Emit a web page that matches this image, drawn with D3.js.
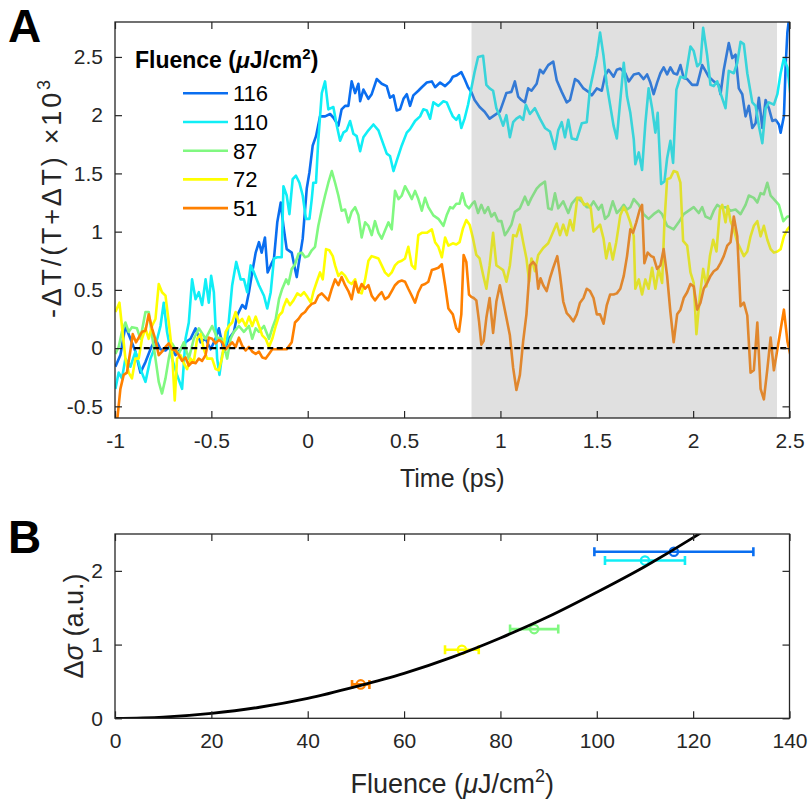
<!DOCTYPE html>
<html>
<head>
<meta charset="utf-8">
<script src="https://cdn.jsdelivr.net/npm/d3@7"></script>
<style>
  body { margin: 0; background: #fff; }
  svg { font-family: "Liberation Sans", Arial, Helvetica, sans-serif; }
</style>
</head>
<body>
<svg id="chart" width="809" height="802"></svg>
<script>
// Panel A: pump-probe traces, [time (ps), -dT/(T+dT) x10^3]
const trace116 = [[-0.998,-0.16],[-0.972,-0.06],[-0.946,0.19],[-0.920,0.08],[-0.894,-0.03],[-0.868,-0.21],[-0.842,-0.12],[-0.816,-0.01],[-0.790,0.08],[-0.764,-0.01],[-0.738,-0.02],[-0.712,0.02],[-0.686,-0.06],[-0.660,-0.01],[-0.634,0.05],[-0.608,0.08],[-0.582,0.17],[-0.556,0.05],[-0.530,0.08],[-0.504,-0.01],[-0.478,0.08],[-0.461,0.17],[-0.435,-0.03],[-0.409,0.08],[-0.383,0.14],[-0.366,0.28],[-0.340,0.37],[-0.322,0.34],[-0.305,0.48],[-0.288,0.65],[-0.270,0.82],[-0.253,0.91],[-0.239,0.82],[-0.222,0.95],[-0.208,0.65],[-0.192,0.71],[-0.175,0.77],[-0.158,1.08],[-0.140,1.25],[-0.126,1.05],[-0.109,0.85],[-0.083,0.82],[-0.066,0.68],[-0.057,0.61],[-0.048,0.71],[-0.026,0.94],[-0.005,1.37],[0.009,1.51],[0.026,1.74],[0.043,1.82],[0.064,1.99],[0.090,1.99],[0.116,2.01],[0.133,1.98],[0.159,1.91],[0.176,2.05],[0.194,2.08],[0.211,2.08],[0.228,2.29],[0.246,2.19],[0.263,2.27],[0.272,2.12],[0.289,2.22],[0.315,2.14],[0.332,2.18],[0.358,2.31],[0.384,2.27],[0.410,2.25],[0.427,2.15],[0.445,2.17],[0.462,2.04],[0.479,2.05],[0.497,2.14],[0.514,2.18],[0.531,2.08],[0.548,2.17],[0.574,2.21],[0.592,2.24],[0.618,2.28],[0.644,2.29],[0.661,2.24],[0.687,2.28],[0.713,2.25],[0.739,2.29],[0.753,2.33],[0.771,2.34],[0.797,2.37],[0.814,2.31],[0.832,2.24],[0.849,2.20],[0.866,2.13],[0.892,2.07],[0.918,2.03],[0.944,1.97],[0.970,2.00],[0.997,2.03],[1.014,2.11],[1.031,2.19],[1.057,2.20],[1.075,2.29],[1.092,2.16],[1.109,2.13],[1.127,2.11],[1.144,2.23],[1.161,2.21],[1.188,2.27],[1.205,2.39],[1.222,2.36],[1.248,2.43],[1.274,2.46],[1.292,2.30],[1.318,2.20],[1.344,2.11],[1.361,2.13],[1.387,2.31],[1.405,2.29],[1.431,2.23],[1.457,2.20],[1.474,2.17],[1.500,2.23],[1.526,2.21],[1.543,2.34],[1.561,2.39],[1.587,2.33],[1.604,2.39],[1.622,2.40],[1.648,2.36],[1.666,2.29],[1.692,2.35],[1.718,2.36],[1.743,2.31],[1.761,2.35],[1.778,2.28],[1.795,2.18],[1.813,2.28],[1.830,2.36],[1.847,2.41],[1.865,2.35],[1.882,2.41],[1.899,2.36],[1.917,2.35],[1.934,2.43],[1.951,2.32],[1.969,2.31],[1.995,2.26],[2.021,2.26],[2.047,2.43],[2.064,2.38],[2.081,2.33],[2.107,2.29],[2.133,2.26],[2.142,2.18],[2.159,2.39],[2.185,2.62],[2.203,2.49],[2.220,2.52],[2.237,2.23],[2.255,2.18],[2.272,1.99],[2.289,2.08],[2.307,1.89],[2.324,1.93],[2.341,2.15],[2.359,1.89],[2.376,2.13],[2.393,2.06],[2.411,1.95],[2.428,1.96],[2.445,1.92],[2.454,1.85],[2.471,1.99],[2.480,2.42],[2.489,2.71],[2.497,2.82]];

const trace110 = [[-0.998,-0.35],[-0.981,-0.21],[-0.964,-0.26],[-0.946,-0.09],[-0.920,-0.16],[-0.894,-0.03],[-0.868,-0.18],[-0.842,-0.29],[-0.816,-0.09],[-0.790,0.02],[-0.764,0.19],[-0.747,0.39],[-0.730,0.14],[-0.704,-0.09],[-0.678,-0.23],[-0.652,-0.35],[-0.634,0.08],[-0.617,0.22],[-0.600,0.59],[-0.582,0.42],[-0.565,0.48],[-0.548,0.37],[-0.530,0.59],[-0.513,0.39],[-0.501,0.62],[-0.487,0.48],[-0.470,-0.09],[-0.458,-0.23],[-0.444,-0.06],[-0.418,0.08],[-0.392,0.54],[-0.371,0.74],[-0.348,0.59],[-0.331,0.59],[-0.314,0.48],[-0.296,0.71],[-0.279,0.65],[-0.253,0.54],[-0.227,0.45],[-0.210,0.34],[-0.192,0.48],[-0.175,0.77],[-0.158,0.78],[-0.135,0.78],[-0.126,1.39],[-0.109,1.31],[-0.095,1.15],[-0.078,1.45],[-0.061,1.48],[-0.043,1.42],[-0.026,1.31],[-0.009,1.11],[0.009,1.11],[0.021,1.28],[0.029,1.42],[0.043,1.42],[0.055,1.79],[0.073,2.19],[0.090,2.29],[0.107,2.05],[0.133,2.07],[0.151,1.91],[0.168,1.78],[0.185,1.85],[0.202,1.87],[0.220,1.95],[0.237,1.84],[0.254,1.82],[0.272,1.69],[0.289,1.81],[0.315,1.87],[0.341,1.92],[0.367,1.87],[0.384,1.79],[0.410,1.67],[0.427,1.65],[0.445,1.52],[0.462,1.61],[0.488,1.74],[0.514,1.85],[0.531,1.88],[0.557,1.95],[0.583,1.99],[0.600,2.05],[0.618,2.04],[0.635,1.97],[0.652,2.11],[0.678,2.08],[0.704,2.12],[0.721,2.11],[0.739,2.04],[0.753,1.99],[0.771,1.96],[0.785,2.00],[0.797,1.89],[0.814,1.97],[0.832,2.09],[0.849,2.23],[0.866,2.37],[0.884,2.50],[0.910,2.51],[0.927,2.26],[0.944,2.23],[0.962,2.21],[0.979,2.06],[0.997,1.99],[1.014,1.91],[1.031,2.00],[1.049,1.81],[1.066,1.94],[1.083,1.97],[1.101,1.99],[1.118,1.96],[1.132,2.09],[1.153,2.01],[1.179,2.06],[1.205,1.97],[1.231,1.89],[1.257,1.86],[1.283,1.71],[1.300,1.87],[1.318,1.94],[1.335,1.81],[1.352,1.96],[1.370,1.80],[1.396,1.79],[1.422,1.93],[1.448,1.94],[1.465,2.23],[1.483,2.37],[1.500,2.51],[1.517,2.71],[1.535,2.51],[1.552,2.26],[1.569,2.09],[1.587,1.91],[1.604,1.80],[1.622,2.13],[1.640,2.45],[1.657,2.16],[1.674,2.02],[1.692,1.79],[1.700,1.58],[1.718,1.68],[1.735,1.53],[1.752,1.93],[1.769,2.23],[1.787,2.06],[1.804,1.85],[1.816,2.02],[1.834,1.41],[1.851,1.43],[1.865,1.63],[1.882,1.78],[1.896,1.59],[1.913,2.22],[1.934,2.33],[1.960,2.32],[1.986,2.59],[2.003,2.55],[2.021,2.42],[2.038,2.45],[2.052,2.75],[2.073,2.51],[2.090,2.26],[2.107,2.25],[2.125,2.29],[2.142,2.19],[2.168,2.06],[2.185,2.38],[2.211,2.36],[2.229,2.45],[2.246,2.63],[2.263,2.61],[2.281,2.36],[2.307,2.11],[2.324,2.08],[2.341,1.91],[2.359,1.76],[2.376,2.06],[2.393,2.11],[2.419,2.09],[2.437,2.18],[2.454,2.36],[2.471,2.49],[2.489,2.41],[2.506,2.16]];

const trace87 = [[-0.998,-0.05],[-0.981,0.01],[-0.964,0.14],[-0.946,0.22],[-0.929,0.14],[-0.912,0.18],[-0.886,0.17],[-0.868,0.08],[-0.842,0.31],[-0.825,0.31],[-0.808,0.11],[-0.790,-0.09],[-0.773,-0.29],[-0.756,-0.39],[-0.738,-0.26],[-0.721,-0.09],[-0.704,0.04],[-0.686,-0.01],[-0.669,-0.05],[-0.643,0.05],[-0.617,-0.09],[-0.591,0.08],[-0.565,0.17],[-0.530,0.08],[-0.496,0.19],[-0.470,0.09],[-0.444,0.08],[-0.418,-0.09],[-0.400,0.08],[-0.383,0.14],[-0.357,0.19],[-0.331,0.14],[-0.305,0.19],[-0.288,0.08],[-0.270,0.17],[-0.253,0.14],[-0.227,0.19],[-0.201,0.08],[-0.184,0.17],[-0.166,0.25],[-0.149,0.42],[-0.132,0.51],[-0.112,0.59],[-0.100,0.55],[-0.083,0.68],[-0.066,0.72],[-0.048,0.81],[-0.031,0.82],[-0.014,0.78],[0.003,0.79],[0.021,0.84],[0.038,0.87],[0.055,1.05],[0.073,1.19],[0.090,1.31],[0.107,1.42],[0.125,1.52],[0.142,1.42],[0.159,1.31],[0.176,1.18],[0.194,1.19],[0.211,1.08],[0.228,1.17],[0.246,1.21],[0.263,1.14],[0.280,0.95],[0.298,1.08],[0.315,1.05],[0.332,0.97],[0.349,1.09],[0.367,0.99],[0.384,0.94],[0.401,1.01],[0.419,1.08],[0.436,1.02],[0.453,1.35],[0.471,1.28],[0.488,1.31],[0.505,1.39],[0.522,1.34],[0.540,1.28],[0.557,1.35],[0.574,1.28],[0.592,1.18],[0.609,1.29],[0.626,1.21],[0.652,1.14],[0.678,1.11],[0.704,1.05],[0.721,1.14],[0.739,1.21],[0.753,1.20],[0.771,1.24],[0.788,1.24],[0.802,1.33],[0.819,1.23],[0.837,1.20],[0.854,1.24],[0.866,1.26],[0.884,1.16],[0.901,1.23],[0.918,1.16],[0.936,1.21],[0.953,1.13],[0.970,1.16],[0.988,1.09],[1.005,1.09],[1.023,0.97],[1.040,1.01],[1.057,1.06],[1.075,1.17],[1.101,1.20],[1.127,1.30],[1.144,1.23],[1.161,1.29],[1.188,1.37],[1.205,1.40],[1.231,1.43],[1.248,1.20],[1.266,1.19],[1.283,1.33],[1.300,1.20],[1.326,1.26],[1.352,1.16],[1.370,1.24],[1.396,1.29],[1.422,1.26],[1.448,1.21],[1.465,1.21],[1.483,1.26],[1.509,1.19],[1.526,1.23],[1.543,1.11],[1.561,1.14],[1.583,1.26],[1.604,1.16],[1.622,1.19],[1.640,1.23],[1.657,1.19],[1.674,1.21],[1.692,1.28],[1.718,1.23],[1.743,1.15],[1.769,1.11],[1.795,1.15],[1.821,1.18],[1.839,1.15],[1.865,1.05],[1.899,1.02],[1.925,1.08],[1.951,1.15],[1.977,1.18],[2.003,1.21],[2.029,1.16],[2.047,1.21],[2.064,1.13],[2.090,1.11],[2.107,1.18],[2.125,1.23],[2.142,1.21],[2.168,1.21],[2.194,1.18],[2.220,1.19],[2.246,1.15],[2.272,1.23],[2.289,1.31],[2.315,1.29],[2.333,1.25],[2.350,1.33],[2.367,1.32],[2.385,1.42],[2.402,1.31],[2.419,1.28],[2.445,1.23],[2.468,1.09],[2.489,1.13],[2.506,1.13]];

const trace72 = [[-0.998,0.31],[-0.977,0.39],[-0.964,0.19],[-0.946,-0.09],[-0.929,-0.21],[-0.912,-0.26],[-0.894,-0.09],[-0.877,-0.09],[-0.860,0.08],[-0.842,0.17],[-0.825,0.08],[-0.808,0.19],[-0.790,0.25],[-0.773,0.55],[-0.756,0.48],[-0.738,0.45],[-0.721,0.22],[-0.704,-0.03],[-0.690,-0.45],[-0.678,-0.09],[-0.660,-0.06],[-0.643,-0.13],[-0.626,-0.18],[-0.608,-0.09],[-0.591,-0.12],[-0.574,0.08],[-0.556,0.12],[-0.539,-0.01],[-0.522,-0.09],[-0.496,-0.09],[-0.478,-0.18],[-0.461,-0.19],[-0.444,-0.08],[-0.426,0.14],[-0.409,0.19],[-0.392,0.22],[-0.374,0.31],[-0.357,0.22],[-0.340,0.25],[-0.322,0.19],[-0.305,0.27],[-0.288,0.19],[-0.270,0.27],[-0.253,0.19],[-0.236,0.11],[-0.218,0.08],[-0.201,0.01],[-0.184,0.08],[-0.166,0.19],[-0.149,0.28],[-0.132,0.31],[-0.126,0.35],[-0.109,0.42],[-0.092,0.37],[-0.074,0.41],[-0.054,0.47],[-0.036,0.45],[-0.019,0.48],[-0.002,0.44],[0.016,0.39],[0.029,0.48],[0.047,0.57],[0.064,0.65],[0.078,0.59],[0.095,0.85],[0.112,0.84],[0.130,0.79],[0.142,0.71],[0.159,0.62],[0.176,0.65],[0.194,0.62],[0.211,0.57],[0.228,0.55],[0.246,0.59],[0.263,0.48],[0.280,0.47],[0.298,0.59],[0.315,0.75],[0.332,0.79],[0.349,0.78],[0.367,0.77],[0.384,0.71],[0.401,0.65],[0.419,0.62],[0.436,0.65],[0.453,0.71],[0.471,0.74],[0.488,0.75],[0.505,0.77],[0.522,0.87],[0.540,0.71],[0.557,0.68],[0.574,0.97],[0.592,0.99],[0.618,0.99],[0.644,1.02],[0.661,0.91],[0.678,0.87],[0.696,0.78],[0.713,0.95],[0.730,0.88],[0.753,0.90],[0.771,0.89],[0.788,0.91],[0.806,1.03],[0.823,1.10],[0.840,1.06],[0.858,0.94],[0.875,0.80],[0.892,0.77],[0.910,0.63],[0.927,0.51],[0.944,0.71],[0.962,0.99],[0.979,0.71],[0.997,0.69],[1.014,0.67],[1.031,0.57],[1.049,0.71],[1.066,0.97],[1.083,0.96],[1.101,1.06],[1.118,0.91],[1.135,0.77],[1.149,0.57],[1.161,0.77],[1.179,0.66],[1.196,0.80],[1.222,0.86],[1.248,0.90],[1.266,0.97],[1.292,1.07],[1.309,0.97],[1.326,1.06],[1.344,0.97],[1.361,1.10],[1.378,1.01],[1.399,1.29],[1.417,1.29],[1.434,1.23],[1.451,1.24],[1.469,1.20],[1.483,1.00],[1.500,1.03],[1.517,1.06],[1.535,0.94],[1.549,0.77],[1.566,0.90],[1.583,0.76],[1.601,0.91],[1.622,1.14],[1.640,1.21],[1.657,1.16],[1.674,1.08],[1.692,0.96],[1.700,0.51],[1.718,0.59],[1.735,0.46],[1.752,0.59],[1.769,0.51],[1.787,0.69],[1.804,0.51],[1.821,0.68],[1.839,0.56],[1.851,1.08],[1.865,1.45],[1.882,1.46],[1.899,1.52],[1.917,1.51],[1.934,1.42],[1.948,0.92],[1.969,0.88],[1.986,0.65],[2.003,0.56],[2.017,0.12],[2.035,0.45],[2.052,0.68],[2.069,0.53],[2.087,0.79],[2.104,0.93],[2.121,0.83],[2.139,1.19],[2.151,1.23],[2.168,1.08],[2.180,1.22],[2.194,1.09],[2.211,1.02],[2.229,0.91],[2.246,0.85],[2.263,0.79],[2.281,0.83],[2.298,0.96],[2.315,1.05],[2.333,1.09],[2.350,0.96],[2.367,1.05],[2.385,0.93],[2.402,0.85],[2.419,0.82],[2.437,0.83],[2.454,0.85],[2.471,0.96],[2.489,1.02],[2.500,1.04]];

const trace51 = [[-0.995,-0.72],[-0.972,-0.35],[-0.955,-0.23],[-0.938,-0.21],[-0.920,-0.02],[-0.908,0.12],[-0.891,0.05],[-0.877,0.09],[-0.860,0.14],[-0.842,0.15],[-0.825,0.29],[-0.808,0.17],[-0.790,0.07],[-0.773,-0.06],[-0.756,-0.03],[-0.738,0.01],[-0.721,0.04],[-0.704,-0.01],[-0.686,-0.02],[-0.669,-0.06],[-0.652,-0.11],[-0.634,-0.08],[-0.617,-0.15],[-0.600,-0.12],[-0.582,-0.13],[-0.565,-0.09],[-0.548,-0.11],[-0.530,-0.06],[-0.513,0.09],[-0.496,0.08],[-0.478,0.04],[-0.461,0.07],[-0.444,0.05],[-0.426,-0.01],[-0.409,0.02],[-0.392,0.05],[-0.374,0.01],[-0.357,0.09],[-0.340,0.02],[-0.322,-0.02],[-0.305,0.01],[-0.288,-0.03],[-0.270,-0.05],[-0.253,-0.03],[-0.236,-0.08],[-0.218,-0.09],[-0.201,-0.05],[-0.184,-0.01],[-0.158,-0.01],[-0.132,-0.01],[-0.109,-0.01],[-0.083,0.05],[-0.066,0.22],[-0.048,0.25],[-0.031,0.29],[-0.014,0.31],[0.003,0.35],[0.021,0.38],[0.038,0.39],[0.055,0.45],[0.073,0.47],[0.090,0.44],[0.107,0.41],[0.125,0.51],[0.142,0.59],[0.159,0.54],[0.176,0.61],[0.194,0.54],[0.211,0.49],[0.228,0.42],[0.246,0.57],[0.263,0.48],[0.280,0.55],[0.298,0.51],[0.315,0.54],[0.332,0.45],[0.349,0.41],[0.367,0.45],[0.384,0.48],[0.401,0.42],[0.419,0.44],[0.436,0.49],[0.453,0.54],[0.471,0.57],[0.488,0.58],[0.505,0.57],[0.522,0.51],[0.540,0.45],[0.557,0.39],[0.574,0.48],[0.592,0.54],[0.609,0.55],[0.626,0.57],[0.644,0.67],[0.661,0.68],[0.678,0.69],[0.696,0.72],[0.713,0.54],[0.730,0.34],[0.753,0.29],[0.771,0.17],[0.785,0.14],[0.797,0.29],[0.809,0.80],[0.823,0.74],[0.837,0.46],[0.849,0.44],[0.861,0.43],[0.875,0.41],[0.889,0.23],[0.901,0.03],[0.913,0.06],[0.927,0.26],[0.944,0.43],[0.962,0.13],[0.979,0.40],[0.997,0.54],[1.014,0.40],[1.031,0.26],[1.049,0.11],[1.066,-0.17],[1.083,-0.36],[1.101,-0.23],[1.118,0.06],[1.135,0.29],[1.153,0.71],[1.170,0.74],[1.184,0.71],[1.196,0.51],[1.208,0.60],[1.222,0.54],[1.240,0.49],[1.257,0.60],[1.274,0.69],[1.295,0.79],[1.309,0.63],[1.326,0.40],[1.344,0.30],[1.361,0.27],[1.378,0.23],[1.396,0.29],[1.413,0.39],[1.431,0.43],[1.448,0.51],[1.465,0.49],[1.483,0.43],[1.500,0.29],[1.517,0.29],[1.535,0.21],[1.552,0.37],[1.569,0.46],[1.587,0.46],[1.604,0.47],[1.622,0.51],[1.640,0.62],[1.657,0.79],[1.674,1.02],[1.688,0.99],[1.705,1.08],[1.723,1.19],[1.735,1.23],[1.747,0.73],[1.764,0.82],[1.782,0.79],[1.795,0.78],[1.813,0.68],[1.830,0.71],[1.847,0.85],[1.865,0.62],[1.882,0.31],[1.899,0.05],[1.917,0.29],[1.934,0.33],[1.951,0.43],[1.969,0.48],[1.986,0.55],[2.003,0.53],[2.021,0.33],[2.038,0.39],[2.055,0.51],[2.073,0.56],[2.090,0.62],[2.107,0.66],[2.125,0.68],[2.142,0.73],[2.159,0.79],[2.177,0.88],[2.194,0.91],[2.211,1.13],[2.229,0.96],[2.246,0.36],[2.263,0.39],[2.281,0.28],[2.298,-0.21],[2.315,-0.19],[2.333,0.22],[2.350,-0.35],[2.367,-0.44],[2.385,-0.18],[2.402,0.09],[2.419,-0.19],[2.437,-0.01],[2.454,0.16],[2.471,0.33],[2.489,0.06],[2.506,-0.07]];

const fluences = [116, 110, 87, 72, 51];
const colors = ["#0a6ef0", "#10eef6", "#80f880", "#ffff00", "#ff8000"];
const shadeRange = [0.85, 2.435];
const zeroLine = [[-0.9, 0], [2.5, 0]];
const timeTicks = [-1, -0.5, 0, 0.5, 1, 1.5, 2, 2.5];
const signalTicks = [-0.5, 0, 0.5, 1, 1.5, 2, 2.5];

// Panel B: conductivity change vs fluence
const sigma = [2.26, 2.14, 1.21, 0.93, 0.46];
const fluenceErr = [16.5, 8.3, 5, 3.5, 1.8];
const fitFluence = [0, 10, 20, 30, 40, 50, 60, 70, 80, 90, 100, 110, 120, 125];
const fitSigma = [0, 0.017, 0.068, 0.15, 0.27, 0.43, 0.61, 0.83, 1.09, 1.38, 1.71, 2.06, 2.45, 2.66];
const fluenceTicks = [0, 20, 40, 60, 80, 100, 120, 140];
const sigmaTicks = [0, 1, 2];

const traces = [trace116, trace110, trace87, trace72, trace51];
const ink = "#262626";

const svg = d3.select("#chart");

// scales
const xA = d3.scaleLinear().domain([-1, 2.5]).range([115, 789.5]);
const yA = d3.scaleLinear().domain([-0.6, 2.8]).range([418, 22]);
const xB = d3.scaleLinear().domain([0, 140]).range([115, 789.5]);
const yB = d3.scaleLinear().domain([0, 2.5]).range([718.3, 534]);

// box axes with inward ticks on every side
function drawAxes(x, y, xTicks, yTicks, xPad, yPad) {
    const [x0, x1] = x.range();
    const [y0, y1] = y.range();
    const g = svg.append("g");
    const fmt = d => String(d);

    g.append("g").attr("transform", `translate(0,${y0})`)
        .call(d3.axisBottom(x).tickValues(xTicks).tickFormat(fmt).tickSizeInner(-7).tickSizeOuter(0).tickPadding(xPad));
    g.append("g").attr("transform", `translate(0,${y1})`)
        .call(d3.axisTop(x).tickValues(xTicks).tickFormat("").tickSizeInner(-7).tickSizeOuter(0));
    g.append("g").attr("transform", `translate(${x0},0)`)
        .call(d3.axisLeft(y).tickValues(yTicks).tickFormat(fmt).tickSizeInner(-7).tickSizeOuter(0).tickPadding(yPad));
    g.append("g").attr("transform", `translate(${x1},0)`)
        .call(d3.axisRight(y).tickValues(yTicks).tickFormat("").tickSizeInner(-7).tickSizeOuter(0));

    g.selectAll(".domain").remove();
    g.selectAll(".tick line").attr("stroke", ink).attr("stroke-width", 1.2);
    g.selectAll(".tick text").attr("fill", ink).style("font-size", "21px");

    g.append("rect")
        .attr("x", x0).attr("y", y1)
        .attr("width", x1 - x0).attr("height", y0 - y1)
        .attr("fill", "none").attr("stroke", ink).attr("stroke-width", 1.3);
}

// ---------- Panel A ----------
svg.append("clipPath").attr("id", "clipA").append("rect")
    .attr("x", 115).attr("y", 22).attr("width", 674.5).attr("height", 396);

const plotA = svg.append("g").attr("clip-path", "url(#clipA)");

const line = d3.line().x(d => xA(d[0])).y(d => yA(d[1]));

traces.forEach((tr, i) => {
    plotA.append("path")
        .datum(tr)
        .attr("d", line)
        .attr("fill", "none")
        .attr("stroke", colors[i])
        .attr("stroke-width", 2.6)
        .attr("stroke-linejoin", "round");
});

// grey window drawn over the traces (semi transparent)
plotA.append("rect")
    .attr("x", xA(shadeRange[0]))
    .attr("y", yA(2.8))
    .attr("width", xA(shadeRange[1]) - xA(shadeRange[0]))
    .attr("height", yA(-0.6) - yA(2.8))
    .attr("fill", "rgb(153,153,153)")
    .attr("fill-opacity", 0.3);

plotA.append("path")
    .datum(zeroLine)
    .attr("d", line)
    .attr("fill", "none")
    .attr("stroke", "#000")
    .attr("stroke-width", 2.4)
    .attr("stroke-dasharray", "6,3.5");

drawAxes(xA, yA, timeTicks, signalTicks, 15, 12);

// legend
const legend = svg.append("g").attr("transform", "translate(135,0)");
const legTitle = legend.append("text")
    .attr("x", 0).attr("y", 68)
    .attr("fill", "#000")
    .style("font-size", "23px").style("font-weight", "bold");
legTitle.append("tspan").text("Fluence (");
legTitle.append("tspan").style("font-style", "italic").text("\u03bc");
legTitle.append("tspan").text("J/cm");
legTitle.append("tspan").attr("dy", -9).style("font-size", "15px").text("2");
legTitle.append("tspan").attr("dy", 9).text(")");

fluences.forEach((f, i) => {
    const yy = 93.3 + i * 28.7;
    legend.append("line")
        .attr("x1", 48).attr("x2", 93)
        .attr("y1", yy).attr("y2", yy)
        .attr("stroke", colors[i]).attr("stroke-width", 2.6);
    legend.append("text")
        .attr("x", 98).attr("y", yy + 8)
        .attr("fill", "#000")
        .style("font-size", "22px")
        .text(f);
});

// axis labels A
svg.append("text")
    .attr("x", xA(0.75)).attr("y", 487)
    .attr("text-anchor", "middle")
    .attr("fill", ink)
    .style("font-size", "25px")
    .text("Time (ps)");

const yLabA = svg.append("text")
    .attr("transform", "translate(61,199) rotate(-90)")
    .attr("text-anchor", "middle")
    .attr("fill", ink)
    .attr("textLength", 238)
    .attr("lengthAdjust", "spacing")
    .style("font-size", "27px");
yLabA.append("tspan").text("-\u0394T/(T+\u0394T) \u00d710");
yLabA.append("tspan").attr("dy", -11).style("font-size", "18px").text("3");

// panel letters
svg.append("text").attr("x", 8).attr("y", 42)
    .style("font-size", "46px").style("font-weight", "bold").text("A");
svg.append("text").attr("x", 8).attr("y", 553)
    .style("font-size", "46px").style("font-weight", "bold").text("B");

// ---------- Panel B ----------
svg.append("clipPath").attr("id", "clipB").append("rect")
    .attr("x", 115).attr("y", 534).attr("width", 674.5).attr("height", 184.3);

const plotB = svg.append("g").attr("clip-path", "url(#clipB)");

fluences.forEach((f, i) => {
    const g = plotB.append("g").attr("stroke", colors[i]).attr("stroke-width", 2.6).attr("fill", "none");
    const cy = yB(sigma[i]);
    const xl = xB(f - fluenceErr[i]);
    const xr = xB(f + fluenceErr[i]);
    g.append("line").attr("x1", xl).attr("x2", xr).attr("y1", cy).attr("y2", cy);
    g.append("line").attr("x1", xl).attr("x2", xl).attr("y1", cy - 4.5).attr("y2", cy + 4.5);
    g.append("line").attr("x1", xr).attr("x2", xr).attr("y1", cy - 4.5).attr("y2", cy + 4.5);
    g.append("circle").attr("cx", xB(f)).attr("cy", cy).attr("r", 4.2).attr("stroke-width", 2.2);
});

const fitLine = d3.line()
    .x((d, i) => xB(fitFluence[i]))
    .y(d => yB(d))
    .curve(d3.curveMonotoneX);

plotB.append("path")
    .datum(fitSigma)
    .attr("d", fitLine)
    .attr("fill", "none")
    .attr("stroke", "#000")
    .attr("stroke-width", 2.8);

drawAxes(xB, yB, fluenceTicks, sigmaTicks, 15, 12);

// axis labels B
const xLabB = svg.append("text")
    .attr("x", xB(70)).attr("y", 793)
    .attr("text-anchor", "middle")
    .attr("fill", ink)
    .style("font-size", "27px");
xLabB.append("tspan").text("Fluence (");
xLabB.append("tspan").style("font-style", "italic").text("\u03bc");
xLabB.append("tspan").text("J/cm");
xLabB.append("tspan").attr("dy", -11).style("font-size", "18px").text("2");
xLabB.append("tspan").attr("dy", 11).text(")");

const yLabB = svg.append("text")
    .attr("transform", "translate(83,626) rotate(-90)")
    .attr("text-anchor", "middle")
    .attr("fill", ink)
    .style("font-size", "27px");
yLabB.append("tspan").text("\u0394");
yLabB.append("tspan").style("font-style", "italic").text("\u03c3");
yLabB.append("tspan").text(" (a.u.)");
</script>
</body>
</html>
